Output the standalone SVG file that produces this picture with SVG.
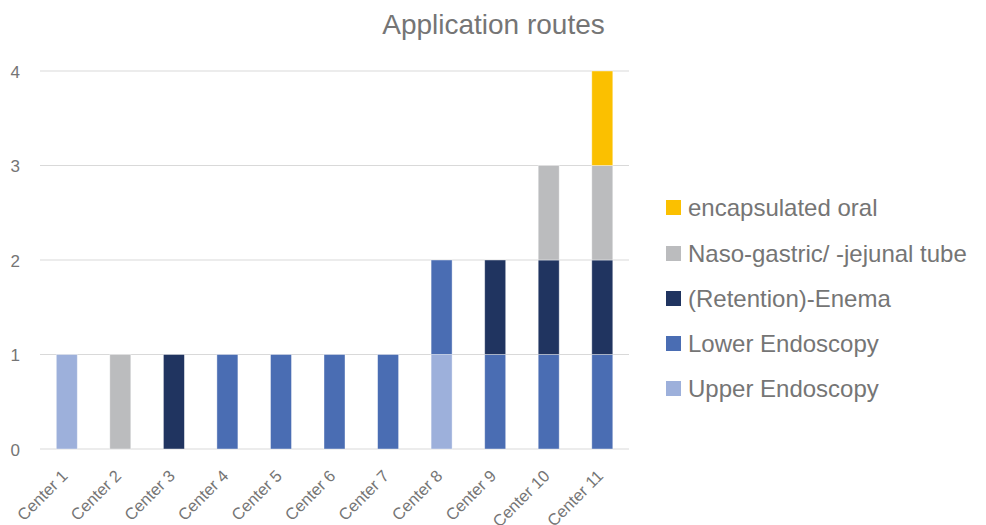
<svg xmlns="http://www.w3.org/2000/svg" width="986" height="525" viewBox="0 0 986 525">
<style>
text{font-family:"Liberation Sans",Arial,sans-serif;fill:#757575}
.title{font-size:28px}
.ax{font-size:17px}
.xl{font-size:16.5px}
.lg{font-size:24px}
.grid{stroke:#D9D9D9;stroke-width:1.2}
.seg{stroke:#fff;stroke-width:0.8;stroke-opacity:0.5}
.up{fill:#9DB0DB}
.lo{fill:#4A6DB3}
.en{fill:#203460}
.ng{fill:#BBBCBE}
.or{fill:#FBC000}
</style>
<rect width="986" height="525" fill="#fff"/>
<text class="title" x="493.5" y="34" text-anchor="middle">Application routes</text>
<g id="gridlines">
<line class="grid" x1="40" y1="71" x2="629" y2="71"/>
<line class="grid" x1="40" y1="165.5" x2="629" y2="165.5"/>
<line class="grid" x1="40" y1="260" x2="629" y2="260"/>
<line class="grid" x1="40" y1="354.5" x2="629" y2="354.5"/>
<line class="grid" x1="40" y1="449" x2="629" y2="449"/>
</g>
<g id="y-axis">
<text class="ax" x="20" y="77.5" text-anchor="end">4</text>
<text class="ax" x="20" y="172" text-anchor="end">3</text>
<text class="ax" x="20" y="266.5" text-anchor="end">2</text>
<text class="ax" x="20" y="361" text-anchor="end">1</text>
<text class="ax" x="20" y="455.5" text-anchor="end">0</text>
</g>
<g id="bars">
<rect class="seg up" x="56.3" y="354.5" width="21" height="94.5"/>
<rect class="seg ng" x="109.8" y="354.5" width="21" height="94.5"/>
<rect class="seg en" x="163.4" y="354.5" width="21" height="94.5"/>
<rect class="seg lo" x="216.9" y="354.5" width="21" height="94.5"/>
<rect class="seg lo" x="270.5" y="354.5" width="21" height="94.5"/>
<rect class="seg lo" x="324.0" y="354.5" width="21" height="94.5"/>
<rect class="seg lo" x="377.6" y="354.5" width="21" height="94.5"/>
<rect class="seg up" x="431.1" y="354.5" width="21" height="94.5"/>
<rect class="seg lo" x="431.1" y="260" width="21" height="94.5"/>
<rect class="seg lo" x="484.7" y="354.5" width="21" height="94.5"/>
<rect class="seg en" x="484.7" y="260" width="21" height="94.5"/>
<rect class="seg lo" x="538.2" y="354.5" width="21" height="94.5"/>
<rect class="seg en" x="538.2" y="260" width="21" height="94.5"/>
<rect class="seg ng" x="538.2" y="165.5" width="21" height="94.5"/>
<rect class="seg lo" x="591.8" y="354.5" width="21" height="94.5"/>
<rect class="seg en" x="591.8" y="260" width="21" height="94.5"/>
<rect class="seg ng" x="591.8" y="165.5" width="21" height="94.5"/>
<rect class="seg or" x="591.8" y="71" width="21" height="94.5"/>
</g>
<g id="x-axis">
<text class="xl" text-anchor="end" transform="translate(68.8,477) rotate(-45)">Center 1</text>
<text class="xl" text-anchor="end" transform="translate(122.3,477) rotate(-45)">Center 2</text>
<text class="xl" text-anchor="end" transform="translate(175.9,477) rotate(-45)">Center 3</text>
<text class="xl" text-anchor="end" transform="translate(229.4,477) rotate(-45)">Center 4</text>
<text class="xl" text-anchor="end" transform="translate(283.0,477) rotate(-45)">Center 5</text>
<text class="xl" text-anchor="end" transform="translate(336.5,477) rotate(-45)">Center 6</text>
<text class="xl" text-anchor="end" transform="translate(390.1,477) rotate(-45)">Center 7</text>
<text class="xl" text-anchor="end" transform="translate(443.6,477) rotate(-45)">Center 8</text>
<text class="xl" text-anchor="end" transform="translate(497.2,477) rotate(-45)">Center 9</text>
<text class="xl" text-anchor="end" transform="translate(550.7,477) rotate(-45)">Center 10</text>
<text class="xl" text-anchor="end" transform="translate(604.3,477) rotate(-45)">Center 11</text>
</g>
<g id="legend">
<g id="legend-oral"><rect class="or" x="666" y="200" width="15" height="15"/><text class="lg" x="688" y="216">encapsulated oral</text></g>
<g id="legend-naso"><rect class="ng" x="666" y="246" width="15" height="15"/><text class="lg" x="688" y="261.5">Naso-gastric/ -jejunal tube</text></g>
<g id="legend-enema"><rect class="en" x="666" y="291" width="15" height="15"/><text class="lg" x="688" y="306.5">(Retention)-Enema</text></g>
<g id="legend-lower"><rect class="lo" x="666" y="336" width="15" height="15"/><text class="lg" x="688" y="351.5">Lower Endoscopy</text></g>
<g id="legend-upper"><rect class="up" x="666" y="381" width="15" height="15"/><text class="lg" x="688" y="396.5">Upper Endoscopy</text></g>
</g>
</svg>
